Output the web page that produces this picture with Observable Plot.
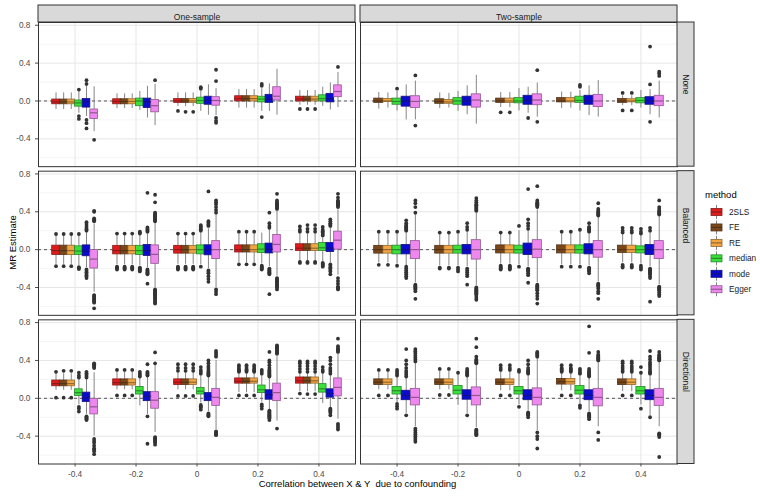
<!DOCTYPE html>
<html>
<head>
<meta charset="utf-8">
<script src="https://cdn.jsdelivr.net/npm/d3@7"></script>
<script src="https://cdn.jsdelivr.net/npm/@observablehq/plot@0.6"></script>
<style>
  body { margin: 0; background: #fff; }
  #chart { width: 760px; height: 496px; }
</style>
</head>
<body>
<div id="chart"></div>
<script>
// ---------- categories ----------
const methods = ["2SLS", "FE", "RE", "median", "mode", "Egger"];
const twoSampleMethods = ["FE", "RE", "median", "mode", "Egger"];
const correlations = [-0.4, -0.2, 0, 0.2, 0.4];
const samples = ["One-sample", "Two-sample"];
const scenarios = ["None", "Balanced", "Directional"];
const yTicks = [-0.4, 0, 0.4, 0.8];
const yMinorTicks = [-0.6, -0.2, 0.2, 0.6];

// ---------- box statistics ----------
// [correlation, method, lower whisker, Q1, median, Q3, upper whisker, [outliers]]
const oneNone = [
  [-0.4,"2SLS",-0.09,-0.035,-0.01,0.015,0.085,[]],
  [-0.4,"FE",-0.09,-0.035,-0.01,0.015,0.085,[]],
  [-0.4,"RE",-0.09,-0.035,-0.01,0.015,0.085,[]],
  [-0.4,"median",-0.13,-0.06,-0.02,0.005,0.1,[0.12,-0.16,-0.19]],
  [-0.4,"mode",-0.165,-0.07,-0.01,0.02,0.16,[0.22,0.18,-0.2,-0.235,-0.29]],
  [-0.4,"Egger",-0.325,-0.19,-0.125,-0.09,0.15,[-0.41]],
  [-0.2,"2SLS",-0.08,-0.035,-0.005,0.018,0.075,[]],
  [-0.2,"FE",-0.08,-0.035,-0.005,0.018,0.075,[]],
  [-0.2,"RE",-0.08,-0.035,-0.005,0.018,0.075,[]],
  [-0.2,"median",-0.1,-0.055,0,0.025,0.1,[]],
  [-0.2,"mode",-0.18,-0.075,-0.01,0.025,0.155,[]],
  [-0.2,"Egger",-0.26,-0.12,-0.05,0.01,0.175,[0.22]],
  [0,"2SLS",-0.057,-0.02,0,0.02,0.085,[-0.105]],
  [0,"FE",-0.06,-0.02,0,0.02,0.085,[-0.115]],
  [0,"RE",-0.06,-0.02,0,0.022,0.085,[-0.115]],
  [0,"median",-0.11,-0.03,0.005,0.035,0.11,[0.145,0.13]],
  [0,"mode",-0.15,-0.04,0.005,0.045,0.17,[]],
  [0,"Egger",-0.155,-0.05,0.005,0.04,0.13,[0.33,0.21,-0.18,-0.21,-0.23]],
  [0.2,"2SLS",-0.075,-0.005,0.025,0.05,0.12,[]],
  [0.2,"FE",-0.075,-0.005,0.025,0.05,0.12,[]],
  [0.2,"RE",-0.075,-0.005,0.025,0.05,0.12,[]],
  [0.2,"median",-0.11,-0.015,0.02,0.045,0.13,[0.18,0.16,-0.17]],
  [0.2,"mode",-0.11,-0.02,0.02,0.065,0.18,[]],
  [0.2,"Egger",-0.15,0.005,0.05,0.145,0.335,[]],
  [0.4,"2SLS",-0.045,-0.005,0.02,0.045,0.11,[-0.085]],
  [0.4,"FE",-0.045,-0.005,0.02,0.045,0.11,[-0.085]],
  [0.4,"RE",-0.045,-0.005,0.02,0.045,0.11,[-0.085]],
  [0.4,"median",-0.057,-0.005,0.025,0.06,0.145,[]],
  [0.4,"mode",-0.095,-0.015,0.025,0.075,0.19,[]],
  [0.4,"Egger",-0.07,0.04,0.1,0.165,0.3,[0.36]]
];
const twoNone = [
  [-0.4,"FE",-0.085,-0.02,0,0.025,0.09,[]],
  [-0.4,"RE",-0.075,-0.01,0,0.02,0.085,[]],
  [-0.4,"median",-0.105,-0.04,-0.005,0.025,0.1,[0.13]],
  [-0.4,"mode",-0.2,-0.06,0,0.045,0.17,[]],
  [-0.4,"Egger",-0.2,-0.075,-0.005,0.05,0.21,[0.27,-0.26]],
  [-0.2,"FE",-0.08,-0.03,-0.005,0.018,0.085,[]],
  [-0.2,"RE",-0.075,-0.03,-0.01,0.01,0.08,[]],
  [-0.2,"median",-0.11,-0.04,0,0.03,0.1,[]],
  [-0.2,"mode",-0.145,-0.05,0,0.045,0.16,[]],
  [-0.2,"Egger",-0.245,-0.07,0.01,0.07,0.27,[]],
  [0,"FE",-0.07,-0.02,0,0.025,0.09,[-0.12]],
  [0,"RE",-0.07,-0.02,0,0.025,0.09,[-0.12]],
  [0,"median",-0.105,-0.025,0,0.03,0.13,[]],
  [0,"mode",-0.13,-0.04,0.005,0.055,0.145,[-0.18]],
  [0,"Egger",-0.17,-0.045,0.01,0.07,0.19,[0.325,-0.22]],
  [0.2,"FE",-0.08,-0.015,0,0.03,0.095,[]],
  [0.2,"RE",-0.075,-0.015,0,0.03,0.093,[]],
  [0.2,"median",-0.105,-0.02,0.005,0.045,0.11,[0.17,0.15]],
  [0.2,"mode",-0.155,-0.04,0,0.055,0.16,[]],
  [0.2,"Egger",-0.17,-0.065,0,0.065,0.215,[]],
  [0.4,"FE",-0.05,-0.02,0,0.02,0.055,[0.085,-0.1]],
  [0.4,"RE",-0.05,-0.015,0,0.018,0.055,[0.085,-0.1]],
  [0.4,"median",-0.075,-0.025,0.005,0.03,0.11,[]],
  [0.4,"mode",-0.145,-0.04,0,0.04,0.12,[0.575,0.175,-0.22]],
  [0.4,"Egger",-0.18,-0.055,0,0.055,0.21,[0.31,0.29,0.265]]
];
const oneBalanced = [
  [-0.4,"2SLS",-0.155,-0.057,-0.01,0.042,0.15,[0.165,-0.175]],
  [-0.4,"FE",-0.155,-0.057,-0.01,0.042,0.15,[0.165,-0.175]],
  [-0.4,"RE",-0.155,-0.057,-0.01,0.042,0.15,[0.165,-0.175]],
  [-0.4,"median",-0.17,-0.057,-0.015,0.035,0.15,[0.165,-0.185,-0.195,-0.205]],
  [-0.4,"mode",-0.19,-0.07,-0.015,0.045,0.18,[0.2,0.215,0.23,0.25,0.27,0.29,-0.21,-0.225,-0.24,-0.255,-0.27,-0.285,-0.3]],
  [-0.4,"Egger",-0.45,-0.2,-0.1,-0.005,0.27,[0.3,0.31,0.32,0.33,0.4,0.41,-0.48,-0.49,-0.5,-0.51,-0.52,-0.53,-0.54,-0.55,-0.56,-0.62]],
  [-0.2,"2SLS",-0.16,-0.05,-0.01,0.04,0.15,[0.17,-0.18,-0.19,-0.2,-0.21]],
  [-0.2,"FE",-0.16,-0.05,-0.01,0.04,0.15,[0.17,-0.18,-0.19,-0.2,-0.21]],
  [-0.2,"RE",-0.16,-0.05,-0.01,0.04,0.15,[0.17,-0.18,-0.19,-0.2,-0.21]],
  [-0.2,"median",-0.17,-0.057,-0.01,0.04,0.15,[0.17,0.18,0.19,-0.19,-0.2,-0.21,-0.22,-0.23]],
  [-0.2,"mode",-0.19,-0.067,-0.01,0.05,0.18,[0.19,0.2,0.21,0.22,0.235,0.6,-0.21,-0.22,-0.23,-0.24,-0.25,-0.26,-0.36]],
  [-0.2,"Egger",-0.4,-0.15,-0.05,0.045,0.28,[0.3,0.31,0.32,0.33,0.34,0.35,0.36,0.37,0.38,0.39,0.5,0.58,-0.42,-0.43,-0.44,-0.45,-0.46,-0.47,-0.48,-0.49,-0.5,-0.51,-0.52,-0.53,-0.545,-0.56,-0.57]],
  [0,"2SLS",-0.155,-0.042,0,0.04,0.15,[0.17,-0.18,-0.19,-0.2,-0.21]],
  [0,"FE",-0.155,-0.042,0,0.04,0.15,[0.17,-0.18,-0.19,-0.2,-0.21]],
  [0,"RE",-0.155,-0.042,0,0.04,0.15,[0.17,-0.18,-0.19,-0.2,-0.21]],
  [0,"median",-0.16,-0.05,0,0.045,0.18,[0.2,0.215,0.23,0.245,0.26,-0.18]],
  [0,"mode",-0.2,-0.06,0,0.046,0.22,[0.25,0.26,0.27,0.285,0.3,0.615,-0.22,-0.235,-0.25,-0.28,-0.31,-0.34]],
  [0,"Egger",-0.4,-0.1,0,0.09,0.37,[0.39,0.42,0.45,0.48,0.5,0.52,-0.42,-0.445,-0.47]],
  [0.2,"2SLS",-0.14,-0.03,0,0.045,0.17,[0.19,-0.155]],
  [0.2,"FE",-0.14,-0.03,0,0.045,0.17,[0.19,-0.155]],
  [0.2,"RE",-0.14,-0.03,0,0.045,0.17,[0.19,-0.155]],
  [0.2,"median",-0.15,-0.035,0.005,0.057,0.175,[-0.17,-0.18,-0.19,-0.2,-0.21]],
  [0.2,"mode",-0.18,-0.04,0.005,0.064,0.21,[0.23,0.25,0.28,0.39,-0.2,-0.21,-0.22,-0.23,-0.24,-0.25,-0.26,-0.47]],
  [0.2,"Egger",-0.28,-0.03,0.055,0.155,0.41,[0.43,0.44,0.45,0.46,0.47,0.48,0.49,0.5,0.52,0.59,-0.3,-0.31,-0.32,-0.33,-0.34,-0.35,-0.36,-0.37,-0.38,-0.39,-0.4,-0.42]],
  [0.4,"2SLS",-0.12,-0.015,0.015,0.057,0.17,[0.19,0.21,0.245,-0.13,-0.14]],
  [0.4,"FE",-0.12,-0.015,0.015,0.057,0.17,[0.19,0.22,0.26,-0.13,-0.14]],
  [0.4,"RE",-0.12,-0.015,0.015,0.057,0.17,[0.19,0.22,0.26,-0.13,-0.14]],
  [0.4,"median",-0.13,-0.015,0.02,0.07,0.14,[0.15,0.165,0.18,0.195,0.21,0.24,-0.14,-0.15,-0.16,-0.17,-0.18]],
  [0.4,"mode",-0.14,-0.025,0.015,0.07,0.23,[0.25,0.26,0.27,0.28,0.3,0.32,-0.155,-0.17,-0.185,-0.2,-0.215,-0.23,-0.26]],
  [0.4,"Egger",-0.27,0,0.1,0.19,0.42,[0.45,0.46,0.47,0.48,0.49,0.5,0.51,0.52,0.55,0.59,-0.3,-0.33,-0.36,-0.39,-0.4,-0.41,-0.42]]
];
const twoBalanced = [
  [-0.4,"FE",-0.14,-0.042,0,0.04,0.17,[0.19,-0.16]],
  [-0.4,"RE",-0.14,-0.042,0,0.04,0.17,[0.19,-0.16]],
  [-0.4,"median",-0.15,-0.05,0,0.042,0.17,[0.19,-0.17]],
  [-0.4,"mode",-0.17,-0.05,0,0.05,0.18,[0.2,0.21,0.22,0.23,0.24,0.25,0.26,0.28,0.31,-0.18,-0.2,-0.22,-0.24,-0.26,-0.28,-0.3]],
  [-0.4,"Egger",-0.35,-0.1,0,0.09,0.37,[0.39,0.45,0.49,0.52,-0.37,-0.38,-0.39,-0.4,-0.41,-0.42,-0.44,-0.52]],
  [-0.2,"FE",-0.17,-0.042,0,0.04,0.16,[0.18,-0.19,-0.2]],
  [-0.2,"RE",-0.17,-0.042,0,0.04,0.16,[0.18,-0.19,-0.2]],
  [-0.2,"median",-0.17,-0.042,0,0.042,0.17,[0.19,-0.19,-0.21,-0.23]],
  [-0.2,"mode",-0.18,-0.05,0,0.05,0.19,[0.21,0.24,0.28,-0.2,-0.22,-0.24,-0.26,-0.28,-0.37]],
  [-0.2,"Egger",-0.38,-0.105,0,0.1,0.39,[0.41,0.42,0.43,0.44,0.45,0.46,0.47,0.48,0.5,0.52,0.545,-0.4,-0.41,-0.42,-0.43,-0.44,-0.45,-0.46,-0.47,-0.49,-0.51,-0.53]],
  [0,"FE",-0.15,-0.04,0,0.045,0.16,[0.18,-0.17,-0.18,-0.19,-0.2,-0.21]],
  [0,"RE",-0.15,-0.04,0,0.045,0.16,[0.18,-0.17,-0.18,-0.19,-0.2,-0.21]],
  [0,"median",-0.16,-0.042,0,0.042,0.2,[0.25,-0.18]],
  [0,"mode",-0.18,-0.057,0,0.064,0.2,[0.22,0.25,0.28,0.32,0.64,-0.2,-0.21,-0.22,-0.23,-0.25,-0.27,-0.35]],
  [0,"Egger",-0.35,-0.09,0.005,0.1,0.42,[0.45,0.46,0.47,0.48,0.49,0.5,0.52,0.67,-0.37,-0.38,-0.39,-0.4,-0.41,-0.42,-0.43,-0.46,-0.49,-0.52,-0.57]],
  [0.2,"FE",-0.16,-0.04,0,0.045,0.17,[0.19,-0.18]],
  [0.2,"RE",-0.16,-0.04,0,0.045,0.17,[0.19,-0.18]],
  [0.2,"median",-0.16,-0.042,0,0.045,0.19,[0.21,-0.18]],
  [0.2,"mode",-0.17,-0.05,0,0.057,0.17,[0.19,0.2,0.21,0.22,0.23,0.24,0.28,-0.19,-0.2,-0.21,-0.22,-0.23,-0.25]],
  [0.2,"Egger",-0.34,-0.085,0,0.09,0.34,[0.36,0.37,0.38,0.39,0.4,0.41,0.43,0.49,-0.36,-0.37,-0.38,-0.39,-0.41,-0.44,-0.46,-0.52]],
  [0.4,"FE",-0.14,-0.035,0,0.042,0.16,[0.18,0.2,0.23,-0.16,-0.175,-0.19]],
  [0.4,"RE",-0.14,-0.035,0,0.042,0.16,[0.18,0.2,0.23,-0.16,-0.175,-0.19]],
  [0.4,"median",-0.15,-0.04,0,0.035,0.15,[0.17,0.19,0.22,-0.17,-0.19,-0.21]],
  [0.4,"mode",-0.18,-0.057,0,0.05,0.18,[0.2,0.23,-0.2,-0.21,-0.22,-0.23,-0.24,-0.25,-0.26,-0.28,-0.3,-0.55]],
  [0.4,"Egger",-0.37,-0.1,0,0.09,0.35,[0.37,0.38,0.39,0.4,0.41,0.43,0.45,0.52,-0.39,-0.4,-0.41,-0.42,-0.43,-0.45,-0.47,-0.49]]
];
const oneDirectional = [
  [-0.4,"2SLS",0.085,0.127,0.155,0.188,0.26,[0.28,0.007]],
  [-0.4,"FE",0.085,0.127,0.155,0.188,0.26,[0.29,0.007]],
  [-0.4,"RE",0.085,0.127,0.155,0.188,0.26,[0.29,0.007]],
  [-0.4,"median",-0.07,0.025,0.06,0.095,0.2,[0.22,0.24,0.27,-0.09,-0.11,-0.14]],
  [-0.4,"mode",-0.17,-0.04,0.005,0.06,0.2,[0.22,0.235,0.25,0.265,0.28,-0.19,-0.2,-0.21,-0.22,-0.23]],
  [-0.4,"Egger",-0.4,-0.17,-0.09,-0.005,0.27,[0.32,0.33,0.34,0.35,0.36,0.37,-0.43,-0.45,-0.47,-0.5,-0.53,-0.54,-0.56,-0.59]],
  [-0.2,"2SLS",0.09,0.135,0.165,0.2,0.28,[0.3,0.03]],
  [-0.2,"FE",0.09,0.135,0.165,0.2,0.28,[0.3,0.03]],
  [-0.2,"RE",0.09,0.135,0.165,0.2,0.28,[0.3,0.03]],
  [-0.2,"median",-0.08,0.04,0.08,0.12,0.21,[0.23,0.245,0.26,0.28]],
  [-0.2,"mode",-0.17,-0.03,0.02,0.065,0.22,[0.24,0.25,0.26,0.27,0.28,0.36,-0.19,-0.48]],
  [-0.2,"Egger",-0.36,-0.11,-0.02,0.065,0.35,[0.37,0.485,-0.41,-0.42,-0.43,-0.44,-0.45,-0.46,-0.47,-0.49]],
  [0,"2SLS",0.09,0.14,0.17,0.2,0.27,[0.29,0.32,0.36,0.025]],
  [0,"FE",0.09,0.14,0.17,0.2,0.27,[0.29,0.32,0.36,0.025]],
  [0,"RE",0.09,0.14,0.17,0.2,0.27,[0.29,0.32,0.36,0.025]],
  [0,"median",-0.05,0.04,0.075,0.11,0.24,[0.26,0.28,0.3,0.33,-0.07,-0.085,-0.1,-0.12]],
  [0,"mode",-0.14,-0.03,0.02,0.055,0.22,[0.24,0.25,0.26,0.27,0.28,0.3,0.32,0.34,0.37,0.4,-0.16,-0.17,-0.18,-0.19]],
  [0,"Egger",-0.33,-0.08,0.01,0.1,0.4,[0.44,0.46,0.48,0.5,-0.35,-0.36,-0.37,-0.38,-0.39]],
  [0.2,"2SLS",0.06,0.155,0.18,0.21,0.26,[0.28,0.29,0.3,0.31,0.33,0.35,0.03]],
  [0.2,"FE",0.06,0.155,0.18,0.21,0.26,[0.28,0.29,0.3,0.31,0.33,0.35,0.03]],
  [0.2,"RE",0.06,0.155,0.18,0.21,0.26,[0.28,0.29,0.3,0.31,0.33,0.35,0.03]],
  [0.2,"median",-0.04,0.055,0.09,0.135,0.24,[0.26,0.28,0.3,-0.065,-0.085,-0.11]],
  [0.2,"mode",-0.12,-0.015,0.035,0.085,0.22,[0.23,0.24,0.25,0.26,0.27,0.28,0.29,0.3,0.32,0.35,0.38,0.4,0.49,-0.13,-0.14,-0.15,-0.16,-0.17,-0.18,-0.19,-0.2,-0.21,-0.23]],
  [0.2,"Egger",-0.24,-0.03,0.06,0.155,0.44,[0.47,0.48,0.49,0.5,0.51,0.52,0.53,0.54,0.55,0.56,-0.32]],
  [0.4,"2SLS",0.07,0.155,0.185,0.22,0.27,[0.28,0.31,0.34,0.37,0.39,0.05]],
  [0.4,"FE",0.07,0.155,0.185,0.22,0.27,[0.28,0.31,0.34,0.37,0.39,0.045]],
  [0.4,"RE",0.07,0.155,0.185,0.22,0.27,[0.28,0.31,0.34,0.37,0.39,0.045]],
  [0.4,"median",-0.055,0.06,0.1,0.15,0.26,[0.28,0.3,0.33]],
  [0.4,"mode",-0.1,0.007,0.05,0.095,0.24,[0.26,0.28,0.3,0.32,0.36,0.4,0.43,-0.11,-0.12,-0.13,-0.14,-0.155,-0.18]],
  [0.4,"Egger",-0.22,0.02,0.115,0.21,0.47,[0.49,0.5,0.51,0.52,0.53,0.55,0.63,-0.27,-0.29,-0.31,-0.33]]
];
const twoDirectional = [
  [-0.4,"FE",0.09,0.14,0.17,0.2,0.28,[0.3,0.03]],
  [-0.4,"RE",0.09,0.14,0.17,0.2,0.28,[0.3,0.03]],
  [-0.4,"median",-0.05,0.04,0.08,0.12,0.22,[0.24,0.26,0.28,0.3,-0.06,-0.085,-0.11]],
  [-0.4,"mode",-0.16,-0.02,0.03,0.08,0.22,[0.23,0.25,0.27,0.29,0.32,0.36,0.4,0.52,-0.18]],
  [-0.4,"Egger",-0.3,-0.075,0.01,0.1,0.37,[0.39,0.41,0.43,0.45,0.47,0.49,0.5,0.52,-0.32,-0.34,-0.36,-0.38,-0.4,-0.42,-0.44,-0.46]],
  [-0.2,"FE",0.09,0.14,0.17,0.2,0.29,[0.31,0.035]],
  [-0.2,"RE",0.09,0.14,0.17,0.2,0.29,[0.31,0.035]],
  [-0.2,"median",-0.075,0.04,0.085,0.13,0.25,[0.27]],
  [-0.2,"mode",-0.16,-0.015,0.03,0.085,0.22,[0.24,0.25,0.26,0.27,0.28,0.29,0.31,-0.18]],
  [-0.2,"Egger",-0.31,-0.075,0.03,0.115,0.35,[0.37,0.38,0.39,0.4,0.41,0.44,0.54,0.63,-0.33,-0.34,-0.35,-0.36,-0.37,-0.38,-0.39]],
  [0,"FE",0.08,0.14,0.17,0.2,0.28,[0.3,0.32,0.35,0.03]],
  [0,"RE",0.08,0.14,0.17,0.2,0.28,[0.3,0.32,0.35,0.03]],
  [0,"median",-0.07,0.04,0.08,0.12,0.26,[0.28,0.3,-0.09]],
  [0,"mode",-0.13,-0.02,0.03,0.085,0.24,[0.26,0.27,0.28,0.29,0.3,0.32,0.36,0.4,-0.15,-0.16,-0.17,-0.18,-0.2]],
  [0,"Egger",-0.34,-0.075,0.01,0.105,0.42,[0.44,0.45,0.46,0.47,0.48,0.49,-0.36,-0.4,-0.43,-0.53]],
  [0.2,"FE",0.08,0.145,0.175,0.205,0.26,[0.28,0.29,0.3,0.31,0.32,0.35,0.03]],
  [0.2,"RE",0.08,0.145,0.175,0.205,0.26,[0.28,0.29,0.3,0.31,0.32,0.35,0.03]],
  [0.2,"median",-0.06,0.04,0.085,0.13,0.24,[0.26,0.27,0.29,0.31,-0.075,-0.1]],
  [0.2,"mode",-0.14,-0.02,0.03,0.085,0.21,[0.23,0.24,0.25,0.26,0.27,0.28,0.29,0.31,0.48,0.76,-0.16,-0.17,-0.18,-0.19,-0.2,-0.22]],
  [0.2,"Egger",-0.3,-0.085,0.01,0.1,0.38,[0.4,0.41,0.42,0.43,0.44,0.45,0.46,0.49,-0.36,-0.44]],
  [0.4,"FE",0.07,0.14,0.17,0.2,0.26,[0.28,0.3,0.32,0.34,0.37,0.39,0.03]],
  [0.4,"RE",0.07,0.14,0.17,0.2,0.26,[0.28,0.3,0.32,0.34,0.37,0.39,0.03]],
  [0.4,"median",-0.07,0.04,0.08,0.12,0.25,[0.27,0.33,-0.11]],
  [0.4,"mode",-0.18,-0.02,0.03,0.085,0.24,[0.26,0.27,0.28,0.3,0.32,0.34,0.36,0.38,0.41,0.44,0.5,-0.2]],
  [0.4,"Egger",-0.3,-0.08,0.01,0.1,0.38,[0.4,0.41,0.42,0.43,0.44,0.45,0.46,0.49,-0.37,-0.38,-0.39,-0.41,-0.62]]
];

// ---------- colours ----------
const fills = ["#e01b1b", "#7b4719", "#f2a643", "#39e039", "#0b0bcf", "#ee88ee"];

// ---------- build tables ----------
const fillOf = Object.fromEntries(methods.map((m, i) => [m, fills[i]]));
const borderOf = Object.fromEntries(methods.map((m, i) => [m, d3.interpolateRgb(fills[i], "#1a1a1a")(0.45)]));
const panels = [
  ["One-sample", "None", methods, oneNone],
  ["Two-sample", "None", twoSampleMethods, twoNone],
  ["One-sample", "Balanced", methods, oneBalanced],
  ["Two-sample", "Balanced", twoSampleMethods, twoBalanced],
  ["One-sample", "Directional", methods, oneDirectional],
  ["Two-sample", "Directional", twoSampleMethods, twoDirectional]
];
const step = correlations[1] - correlations[0];
const dodge = 0.75 * step;
const boxes = [], outliers = [];
for (const [sample, scenario, ms, rows] of panels) {
  const k = ms.length, w = dodge / k;
  for (const [corr, method, lo, q1, med, q3, hi, out] of rows) {
    const i = ms.indexOf(method);
    const x = corr + (i - (k - 1) / 2) * w;
    boxes.push({sample, scenario, method, lo, q1, med, q3, hi, x, x1: x - w / 2, x2: x + w / 2});
    for (const v of out) outliers.push({sample, scenario, method, x, v});
  }
}
const topStrips = samples.map(s => ({sample: s, scenario: scenarios[0]}));
const rightStrips = scenarios.map(s => ({sample: samples[1], scenario: s}));

const xDomain = [correlations[0] - 0.6 * step, correlations[correlations.length - 1] + 0.6 * step];
const yDomain = [-0.694, 0.829];
const font = "'Liberation Sans', Arial, sans-serif";
const fmtY = d => d.toFixed(1);
const fmtX = d => d === 0 ? "0" : String(d);

const plot = Plot.plot({
  width: 760,
  height: 496,
  marginLeft: 38,
  marginRight: 83,
  marginTop: 22,
  marginBottom: 32.5,
  style: {fontFamily: font, background: "#fff", overflow: "visible"},
  x: {domain: xDomain},
  y: {domain: yDomain},
  fx: {domain: samples, axis: null, paddingInner: 0.0155, paddingOuter: 0, round: false},
  fy: {domain: scenarios, axis: null, paddingInner: 0.0303, paddingOuter: 0, round: false},
  marks: [
    Plot.ruleY(yMinorTicks, {stroke: "#ececec", strokeWidth: 0.6}),
    Plot.ruleY(yTicks, {stroke: "#e6e6e6", strokeWidth: 1}),
    Plot.ruleX(correlations, {stroke: "#e6e6e6", strokeWidth: 1}),
    Plot.ruleY([0], {stroke: "#555", strokeWidth: 1, strokeDasharray: "3,3"}),
    Plot.ruleX(boxes, {fx: "sample", fy: "scenario", x: "x", y1: "lo", y2: "q1", stroke: "#777", strokeWidth: 0.9}),
    Plot.ruleX(boxes, {fx: "sample", fy: "scenario", x: "x", y1: "q3", y2: "hi", stroke: "#777", strokeWidth: 0.9}),
    Plot.rect(boxes, {fx: "sample", fy: "scenario", x1: "x1", x2: "x2", y1: "q1", y2: "q3",
      fill: d => fillOf[d.method], stroke: d => borderOf[d.method], strokeWidth: 0.8}),
    Plot.ruleY(boxes, {fx: "sample", fy: "scenario", x1: "x1", x2: "x2", y: "med",
      stroke: d => borderOf[d.method], strokeWidth: 1.2}),
    Plot.dot(outliers, {fx: "sample", fy: "scenario", x: "x", y: "v", r: 1.9, fill: "#333", stroke: null}),
    Plot.frame({stroke: "#333", strokeWidth: 1}),
    Plot.rect(topStrips, {fx: "sample", fy: "scenario", x1: () => xDomain[0], x2: () => xDomain[1],
      y1: () => yDomain[1], y2: () => yDomain[1], insetTop: -17, fill: "#d9d9d9", stroke: "#333", strokeWidth: 1}),
    Plot.text(topStrips, {fx: "sample", fy: "scenario", text: "sample", frameAnchor: "top", dy: -8.5,
      fontSize: 8.5, fill: "#1a1a1a"}),
    Plot.rect(rightStrips, {fx: "sample", fy: "scenario", x1: () => xDomain[1], x2: () => xDomain[1],
      y1: () => yDomain[0], y2: () => yDomain[1], insetRight: -17, fill: "#d9d9d9", stroke: "#333", strokeWidth: 1}),
    Plot.text(rightStrips, {fx: "sample", fy: "scenario", text: "scenario", frameAnchor: "right", dx: 8.5,
      rotate: 90, fontSize: 8.5, fill: "#1a1a1a"}),
    Plot.axisY({ticks: yTicks, tickFormat: fmtY, tickSize: 3, tickPadding: 5, fontSize: 8.3, color: "#4d4d4d", label: null}),
    Plot.axisX({ticks: correlations, tickFormat: fmtX, tickSize: 3, tickPadding: 4, fontSize: 8.3, color: "#4d4d4d", label: null})
  ]
});

const svg = d3.select(plot);
svg.append("text")
  .attr("x", 357.5).attr("y", 484).attr("dy", "0.35em")
  .attr("text-anchor", "middle").attr("font-size", 9.5).attr("fill", "#000")
  .attr("font-family", font).style("white-space", "pre")
  .text("Correlation between X & Y  due to confounding");
svg.append("text")
  .attr("transform", "translate(13,242.5) rotate(-90)").attr("dy", "0.35em")
  .attr("text-anchor", "middle").attr("font-size", 9.5).attr("fill", "#000")
  .attr("font-family", font)
  .text("MR Estimate");

// legend
const lg = svg.append("g").attr("font-family", font).attr("text-anchor", "start");
lg.append("text").attr("x", 705).attr("y", 195).attr("dy", "0.35em")
  .attr("font-size", 9.5).attr("fill", "#000").text("method");
methods.forEach((m, i) => {
  const cy = 212 + i * 15.45;
  lg.append("line").attr("x1", 716.5).attr("x2", 716.5).attr("y1", cy - 7).attr("y2", cy + 7)
    .attr("stroke", "#777").attr("stroke-width", 0.9);
  lg.append("rect").attr("x", 711).attr("y", cy - 3.5).attr("width", 11).attr("height", 7)
    .attr("fill", fillOf[m]).attr("stroke", borderOf[m]).attr("stroke-width", 0.8);
  lg.append("line").attr("x1", 711).attr("x2", 722).attr("y1", cy).attr("y2", cy)
    .attr("stroke", borderOf[m]).attr("stroke-width", 1.2);
  lg.append("text").attr("x", 729).attr("y", cy).attr("dy", "0.35em")
    .attr("font-size", 8.3).attr("fill", "#1a1a1a").text(m);
});

document.getElementById("chart").appendChild(plot);
</script>
</body>
</html>
